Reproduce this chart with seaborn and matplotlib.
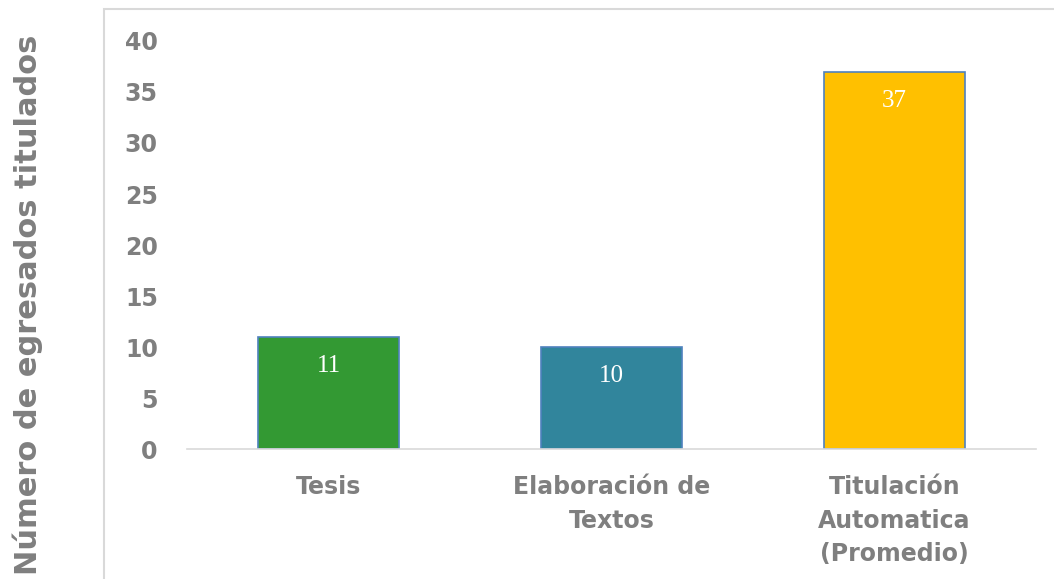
import matplotlib.pyplot as plt
import seaborn as sns
import pandas as pd
from matplotlib.patches import Rectangle

categorias = ["Tesis", "Elaboración de\nTextos", "Titulación\nAutomatica\n(Promedio)"]
egresados = [11, 10, 37]
colores = ["#339933", "#31859c", "#ffc000"]
yticks = [0, 5, 10, 15, 20, 25, 30, 35, 40]

df = pd.DataFrame({"modalidad": categorias, "egresados": egresados})

sns.set_style("white")
plt.rcParams["font.family"] = ["DejaVu Sans"]

fig = plt.figure(figsize=(10.54, 5.79), dpi=100)
ax = fig.add_axes([0.1774, 0.2245, 0.8056, 0.7047])

sns.barplot(
    data=df,
    x="modalidad",
    y="egresados",
    hue="modalidad",
    palette=colores,
    saturation=1,
    width=0.5,
    legend=False,
    edgecolor="#4f81bd",
    linewidth=1.2,
    ax=ax,
)

for bar, val in zip(ax.patches, egresados):
    ax.annotate(
        str(val),
        (bar.get_x() + bar.get_width() / 2, bar.get_height()),
        xytext=(0, -21),
        textcoords="offset points",
        ha="center",
        va="center",
        color="white",
        fontsize=18,
        family=["Liberation Serif", "DejaVu Serif"],
    )

ax.set_xlim(-0.5, 2.5)
ax.set_ylim(0, 40)
ax.set_yticks(yticks)
ax.set_xlabel("")
ax.set_ylabel("")
for s in ["top", "right", "left"]:
    ax.spines[s].set_visible(False)
ax.spines["bottom"].set_color("#d9d9d9")
ax.spines["bottom"].set_linewidth(1.2)
ax.tick_params(axis="both", length=0, colors="#7f7f7f")
ax.tick_params(axis="y", pad=21)
ax.tick_params(axis="x", pad=19)
for lab in ax.get_yticklabels():
    lab.set_fontsize(17)
    lab.set_fontweight("bold")
for lab in ax.get_xticklabels():
    lab.set_fontsize(17)
    lab.set_fontweight("bold")
    lab.set_linespacing(1.5)
    lab.set_verticalalignment("top")

fig.text(28 / 1054, 0.473, "Número de egresados titulados", rotation=90,
         ha="center", va="center", fontsize=22, fontweight="bold", color="#7f7f7f")

fig.patches.append(Rectangle((104 / 1054, -0.05), 1.0, 1.05 - 9 / 579,
                             transform=fig.transFigure, fill=False,
                             edgecolor="#d9d9d9", linewidth=1.5))

fig.savefig("out.png", dpi=100)
